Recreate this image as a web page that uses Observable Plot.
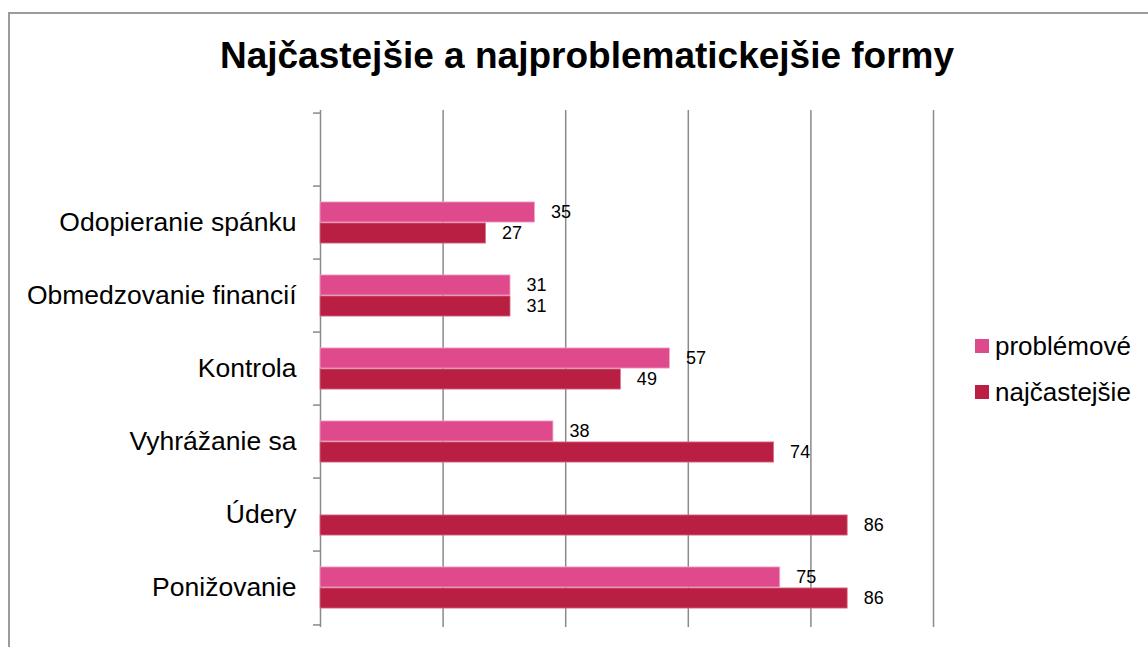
<!DOCTYPE html>
<html>
<head>
<meta charset="utf-8">
<script src="https://cdn.jsdelivr.net/npm/d3@7"></script>
<script src="https://cdn.jsdelivr.net/npm/@observablehq/plot@0.6"></script>
<style>
  html, body { margin: 0; padding: 0; background: #fff; }
  body { width: 1148px; height: 647px; overflow: hidden; font-family: "Liberation Sans", Arial, sans-serif; }
  #wrap { position: relative; width: 1148px; height: 647px; }
  #frame { position: absolute; left: 8px; top: 12px; width: 1160px; height: 660px; border: 2px solid #9c9c9c; box-sizing: border-box; }
  #title { position: absolute; left: 8px; width: 1158px; top: 33px; text-align: center; font-weight: bold; font-size: 37px; color: #000; line-height: 46px; }
  #chart { position: absolute; left: 0; top: 0; }
  #legend { position: absolute; left: 975px; top: 330px; font-size: 26px; color: #000; }
  .item { display: flex; align-items: center; height: 32px; margin-bottom: 14px; }
  .sw { width: 14px; height: 14px; margin-right: 6px; }
</style>
</head>
<body>
<div id="wrap">
  <div id="frame"></div>
  <div id="title"></div>
  <div id="chart"></div>
  <div id="legend"></div>
</div>
<script>
const titleText = "Najčastejšie a najproblematickejšie formy";
const categories = [" ", "Odopieranie spánku", "Obmedzovanie financií", "Kontrola", "Vyhrážanie sa", "Údery", "Ponižovanie"];
const problemove = [null, 35, 31, 57, 38, null, 75];
const najcastejsie = [null, 27, 31, 49, 74, 86, 86];
const seriesNames = ["problémové", "najčastejšie"];
const seriesColors = ["#DF4A8C", "#B81F43"];
const gridTicks = [20, 40, 60, 80, 100];

document.getElementById("title").textContent = titleText;

const rowsP = categories.map((c, i) => ({cat: c, value: problemove[i]})).filter(d => d.value != null);
const rowsN = categories.map((c, i) => ({cat: c, value: najcastejsie[i]})).filter(d => d.value != null);

const half = (627 - 110) / categories.length / 2;

const chart = Plot.plot({
  width: 1148,
  height: 647,
  marginLeft: 320,
  marginRight: 215,
  marginTop: 110,
  marginBottom: 20,
  style: {fontFamily: "'Liberation Sans', Arial, sans-serif", background: "transparent", color: "#000"},
  x: {domain: [0, 100], axis: null},
  y: {domain: categories, padding: 0, axis: null},
  marks: [
    Plot.gridX(gridTicks, {stroke: "#8a8a8a", strokeOpacity: 1, strokeWidth: 1.5}),
    Plot.ruleX([0], {stroke: "#8a8a8a", strokeWidth: 1.5}),
    Plot.barX(rowsP, {y: "cat", x: "value", fill: seriesColors[0], stroke: "#f3a9c8", strokeWidth: 0.8, insetTop: half - 21, insetBottom: half}),
    Plot.barX(rowsN, {y: "cat", x: "value", fill: seriesColors[1], stroke: "#d9728b", strokeWidth: 0.8, insetTop: half, insetBottom: half - 21}),
    Plot.text(rowsP, {y: "cat", x: "value", text: d => String(d.value), dx: 16, dy: -10.5, textAnchor: "start", fontSize: 18, fill: "#000"}),
    Plot.text(rowsN, {y: "cat", x: "value", text: d => String(d.value), dx: 16, dy: 10.5, textAnchor: "start", fontSize: 18, fill: "#000"}),
    Plot.axisY({tickSize: 0, tickPadding: 24, fontSize: 26.5, fill: "#000", label: null}),
    Plot.axisY({tickSize: 7, tickFormat: () => "", dy: -half, stroke: "#8a8a8a", strokeWidth: 1.5, label: null}),
    Plot.axisY({ticks: [categories[categories.length - 1]], tickSize: 7, tickFormat: () => "", dy: half, stroke: "#8a8a8a", strokeWidth: 1.5, label: null})
  ]
});
document.getElementById("chart").appendChild(chart);

const legend = document.getElementById("legend");
seriesNames.forEach((n, i) => {
  const item = document.createElement("div");
  item.className = "item";
  const sw = document.createElement("div");
  sw.className = "sw";
  sw.style.background = seriesColors[i];
  const t = document.createElement("span");
  t.textContent = n;
  item.appendChild(sw);
  item.appendChild(t);
  legend.appendChild(item);
});
</script>
</body>
</html>
